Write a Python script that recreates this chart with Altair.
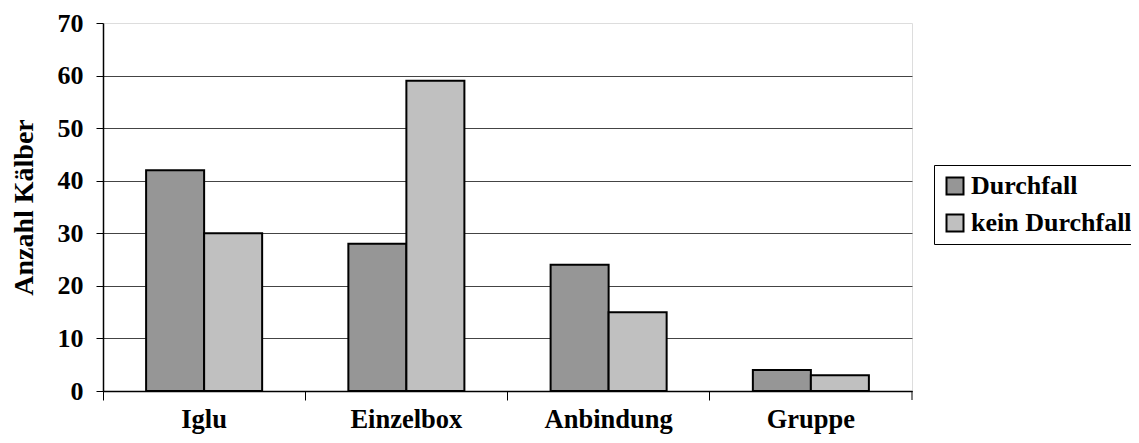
import altair as alt
import pandas as pd

categories = ["Iglu", "Einzelbox", "Anbindung", "Gruppe"]
series = ["Durchfall", "kein Durchfall"]
durchfall = [42, 28, 24, 4]
kein_durchfall = [30, 59, 15, 3]

rows = []
for c, a, b in zip(categories, durchfall, kein_durchfall):
    rows.append({"Kategorie": c, "Serie": series[0], "Wert": a})
    rows.append({"Kategorie": c, "Serie": series[1], "Wert": b})
df = pd.DataFrame(rows)

FONT = "Liberation Serif"
FS = 26
W, H = 809, 368

bars = alt.Chart(df).mark_bar(stroke="black", strokeWidth=2).encode(
    x=alt.X("Kategorie:N", sort=categories,
            scale=alt.Scale(paddingInner=0, paddingOuter=0),
            axis=alt.Axis(title=None, bandPosition=0, labelOffset=0,
                          labelAngle=0, labelFont=FONT, labelFontSize=26.5,
                          labelFontWeight="bold", labelColor="black",
                          labelBaseline="alphabetic",
                          labelPadding=27, tickSize=9, tickColor="black",
                          domainColor="black", tickWidth=1, domainWidth=1.5,
                          grid=False)),
    xOffset=alt.XOffset("Serie:N", sort=series,
                        scale=alt.Scale(paddingInner=0, paddingOuter=0.743)),
    y=alt.Y("Wert:Q", scale=alt.Scale(domain=[0, 70], nice=False),
            axis=alt.Axis(title="Anzahl Kälber", values=list(range(0, 71, 10)),
                          titleFont=FONT, titleFontSize=28, titleFontWeight="bold",
                          titleColor="black", titlePadding=19,
                          labelFont=FONT, labelFontSize=FS, labelFontWeight="bold",
                          labelColor="black", labelPadding=13,
                          tickSize=7, tickColor="black", domainColor="black",
                          domainWidth=1.5, gridColor="#444444", gridWidth=1,
                          gridOpacity=alt.condition("datum.value == 70", alt.value(0), alt.value(1)))),
    color=alt.Color("Serie:N", sort=series,
                    scale=alt.Scale(domain=series, range=["#969696", "#c0c0c0"]),
                    legend=alt.Legend(title=None, orient="none", legendX=831, legendY=142,
                                      symbolType="square", symbolSize=289,
                                      symbolStrokeColor="black", symbolStrokeWidth=2,
                                      labelFont=FONT, labelFontSize=26,
                                      labelFontWeight="bold", labelColor="black",
                                      labelOffset=3, labelLimit=400, rowPadding=11,
                                      padding=8,
                                      strokeColor="black", fillColor="white")),
)

right_tick = alt.Chart(pd.DataFrame({"Kategorie": [categories[-1]]})).mark_rule(
    color="black", strokeWidth=1
).encode(
    x=alt.X("Kategorie:N", sort=categories, bandPosition=1),
    y=alt.value(H), y2=alt.value(H + 9),
)

chart = alt.layer(bars, right_tick).properties(
    width=W, height=H,
    autosize=alt.AutoSizeParams(type="none"),
    padding={"left": 95, "top": 15, "right": 219, "bottom": 44},
).configure_view(stroke="#888888", strokeWidth=2).configure(background="white")

chart.save("out.html", embed_options={"renderer": "svg", "actions": False})
